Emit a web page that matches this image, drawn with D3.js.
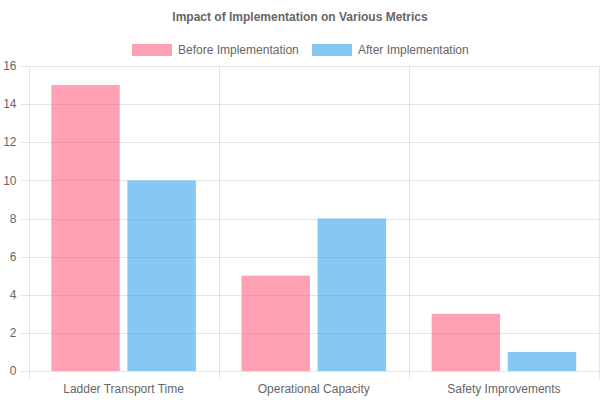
<!DOCTYPE html>
<html>
<head>
<meta charset="utf-8">
<script src="https://cdn.jsdelivr.net/npm/d3@7"></script>
<style>
  body { margin: 0; background: #fff; }
  svg text { font-family: "Liberation Sans", Arial, Helvetica, sans-serif; fill: #666; }
</style>
</head>
<body>
<div id="chart"></div>
<script>
const categories = ['Ladder Transport Time', 'Operational Capacity', 'Safety Improvements'];
const seriesNames = ['Before Implementation', 'After Implementation'];
const beforeValues = [15, 5, 3];
const afterValues = [10, 8, 1];
const yTicks = [0, 2, 4, 6, 8, 10, 12, 14, 16];

const width = 600;
const height = 400;
const margin = { top: 66, right: 1, bottom: 29, left: 28.5 };
const colors = ['rgba(255,99,132,0.6)', 'rgba(54,162,235,0.6)'];
const gridColor = 'rgba(0,0,0,0.1)';

const svg = d3.select('#chart')
  .append('svg')
  .attr('width', width)
  .attr('height', height);

const x = d3.scaleBand()
  .domain(categories)
  .range([margin.left, width - margin.right]);

// category 80%, bar 90% of its slot
const bw = x.bandwidth();
const inner = d3.scaleBand()
  .domain(seriesNames)
  .range([0.1 * bw, 0.9 * bw])
  .paddingInner(0.1)
  .paddingOuter(0.05);

const y = d3.scaleLinear()
  .domain([0, 16])
  .range([height - margin.bottom, margin.top]);

// horizontal grid + tick marks
svg.append('g')
  .selectAll('line')
  .data(yTicks)
  .enter()
  .append('line')
  .attr('x1', margin.left - 8)
  .attr('x2', width - margin.right)
  .attr('y1', d => Math.round(y(d)) + 0.5)
  .attr('y2', d => Math.round(y(d)) + 0.5)
  .attr('stroke', gridColor);

// vertical grid lines at category boundaries
const bounds = categories.map(c => x(c)).concat([width - margin.right]);
svg.append('g')
  .selectAll('line')
  .data(bounds)
  .enter()
  .append('line')
  .attr('x1', d => Math.round(d) + 0.5)
  .attr('x2', d => Math.round(d) + 0.5)
  .attr('y1', margin.top)
  .attr('y2', height - margin.bottom + 8)
  .attr('stroke', gridColor);

// y tick labels
svg.append('g')
  .selectAll('text')
  .data(yTicks)
  .enter()
  .append('text')
  .attr('x', margin.left - 12)
  .attr('y', d => y(d))
  .attr('dy', '0.35em')
  .attr('text-anchor', 'end')
  .style('font-size', '12px')
  .text(d => d);

// x labels
svg.append('g')
  .selectAll('text')
  .data(categories)
  .enter()
  .append('text')
  .attr('x', d => x(d) + x.bandwidth() / 2)
  .attr('y', height - margin.bottom + 18)
  .attr('dy', '0.35em')
  .attr('text-anchor', 'middle')
  .style('font-size', '12px')
  .text(d => d);

// bars
const series = [beforeValues, afterValues];
series.forEach((vals, si) => {
  svg.append('g')
    .selectAll('rect')
    .data(categories)
    .enter()
    .append('rect')
    .attr('x', d => x(d) + inner(seriesNames[si]))
    .attr('y', (d, i) => y(vals[i]))
    .attr('width', inner.bandwidth())
    .attr('height', (d, i) => y(0) - y(vals[i]))
    .attr('fill', colors[si]);
});

// title
svg.append('text')
  .attr('x', width / 2)
  .attr('y', 17)
  .attr('dy', '0.35em')
  .attr('text-anchor', 'middle')
  .style('font-size', '12px')
  .style('font-weight', 'bold')
  .text('Impact of Implementation on Various Metrics');

// legend
const legendX = [132, 312];
const legend = svg.append('g');
seriesNames.forEach((name, i) => {
  legend.append('rect')
    .attr('x', legendX[i])
    .attr('y', 44)
    .attr('width', 40)
    .attr('height', 12)
    .attr('fill', colors[i]);
  legend.append('text')
    .attr('x', legendX[i] + 46)
    .attr('y', 50)
    .attr('dy', '0.35em')
    .style('font-size', '12px')
    .text(name);
});
</script>
</body>
</html>
